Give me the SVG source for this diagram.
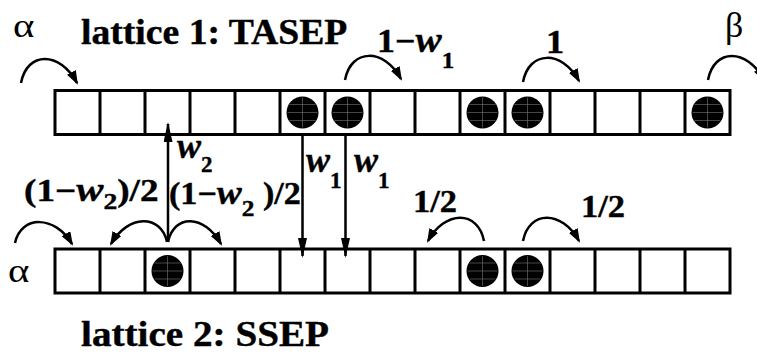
<svg xmlns="http://www.w3.org/2000/svg" width="757" height="354" viewBox="0 0 757 354">
<style>
.lat{fill:#fff;stroke:#000;stroke-width:3}
.div{fill:none;stroke:#000;stroke-width:3}
.t{font-weight:bold;fill:#000;stroke:#000;stroke-width:0.4}
.g{font-weight:normal;fill:#000}
.w{font-style:italic}
.arc{fill:none;stroke:#000;stroke-width:2.5}
.vert{fill:none;stroke:#000;stroke-width:2.5}
.pt{fill:#000}
.grid{stroke:#777;stroke-width:0.6}
</style>
<defs>
<marker id="ah" markerUnits="userSpaceOnUse" viewBox="0 0 14 10" markerWidth="14" markerHeight="10" refX="12" refY="5" orient="auto">
<path d="M0,0 L14,5 L0,10 z" fill="#000"/>
</marker>
<marker id="av" markerUnits="userSpaceOnUse" viewBox="0 0 20 9" markerWidth="20" markerHeight="9" refX="18" refY="4.5" orient="auto">
<path d="M0,0 L20,4.5 L0,9 z" fill="#000"/>
</marker>
<g id="p">
<circle class="pt" r="16"/>
<path class="grid" d="M-13,-8 H13 M-15,0 H15 M-13,8 H13 M0,-15 V15"/>
</g>
</defs>

<g id="lattice1">
<rect class="lat" x="55" y="90.5" width="675" height="44"/>
<path class="div" d="M100 90.5V134.5M145 90.5V134.5M190 90.5V134.5M235 90.5V134.5M280 90.5V134.5M325 90.5V134.5M370 90.5V134.5M415 90.5V134.5M460 90.5V134.5M505 90.5V134.5M550 90.5V134.5M595 90.5V134.5M640 90.5V134.5M685 90.5V134.5"/>
<use href="#p" x="302.5" y="112.5"/>
<use href="#p" x="347.5" y="112.5"/>
<use href="#p" x="482.5" y="112.5"/>
<use href="#p" x="527.5" y="112.5"/>
<use href="#p" x="707.5" y="112.5"/>
</g>

<g id="lattice2">
<rect class="lat" x="55" y="249" width="675" height="44"/>
<path class="div" d="M100 249V293M145 249V293M190 249V293M235 249V293M280 249V293M325 249V293M370 249V293M415 249V293M460 249V293M505 249V293M550 249V293M595 249V293M640 249V293M685 249V293"/>
<use href="#p" x="167.5" y="271"/>
<use href="#p" x="482.5" y="271"/>
<use href="#p" x="527.5" y="271"/>
</g>

<g id="connectors">
<path class="arc" marker-end="url(#ah)" d="M21 83 C27 51, 60 51, 77 83"/>
<path class="arc" marker-end="url(#ah)" d="M345 80 C351 48, 384 48, 401 79"/>
<path class="arc" marker-end="url(#ah)" d="M523 82 C529 50, 562 50, 579 81"/>
<path class="arc" marker-end="url(#ah)" d="M708 80 C714 48, 747 48, 764 80"/>
<path class="arc" marker-end="url(#ah)" d="M15 243 C21 215, 55 215, 72 244"/>
<path class="arc" marker-end="url(#ah)" d="M167 242 C161 214, 128 214, 111 244"/>
<path class="arc" marker-end="url(#ah)" d="M168 242 C174 214, 204 214, 221 244"/>
<path class="arc" marker-end="url(#ah)" d="M484 241 C478 210, 445 210, 428 241"/>
<path class="arc" marker-end="url(#ah)" d="M523 241 C529 210, 562 210, 579 241"/>
<path class="vert" marker-end="url(#av)" d="M168 242 V124"/>
<path class="vert" marker-end="url(#av)" d="M302.5 135 V256"/>
<path class="vert" marker-end="url(#av)" d="M345.5 135 V256"/>
</g>

<g id="labels" font-family="Liberation Serif, serif">
<text class="g" transform="translate(13,37) scale(1.2,1)" font-size="34">α</text>
<text class="t" transform="translate(81,44) scale(1.046,1)" font-size="36">lattice 1: TASEP</text>
<text class="t" transform="translate(377,52) scale(1.09,1)" font-size="33">1−<tspan class="w" font-size="36">w</tspan><tspan font-size="23" dy="16">1</tspan></text>
<text class="t" transform="translate(546,53) scale(1.1,1)" font-size="33">1</text>
<text class="g" transform="translate(725,37)" font-size="36">β</text>
<text class="t" transform="translate(177,158)" font-size="36"><tspan class="w">w</tspan><tspan font-size="23" dy="14">2</tspan></text>
<text class="t" transform="translate(24,201) scale(1.2,1)" font-size="31">(1−<tspan class="w" font-size="34">w</tspan><tspan font-size="23" dy="8">2</tspan><tspan dy="-8">)/2</tspan></text>
<text class="t" transform="translate(169,204) scale(1.1,1)" font-size="31">(1−<tspan class="w" font-size="34">w</tspan><tspan font-size="23" dy="12">2</tspan><tspan dy="-12"> )/2</tspan></text>
<text class="t" transform="translate(306,172)" font-size="36"><tspan class="w">w</tspan><tspan font-size="23" dy="16">1</tspan></text>
<text class="t" transform="translate(354,172)" font-size="36"><tspan class="w">w</tspan><tspan font-size="23" dy="16">1</tspan></text>
<text class="t" transform="translate(413,212) scale(1.11,1)" font-size="31">1/2</text>
<text class="t" transform="translate(581,217) scale(1.11,1)" font-size="31">1/2</text>
<text class="g" transform="translate(8,282) scale(1.2,1)" font-size="34">α</text>
<text class="t" transform="translate(81,346) scale(1.088,1)" font-size="36">lattice 2: SSEP</text>
</g>
</svg>
